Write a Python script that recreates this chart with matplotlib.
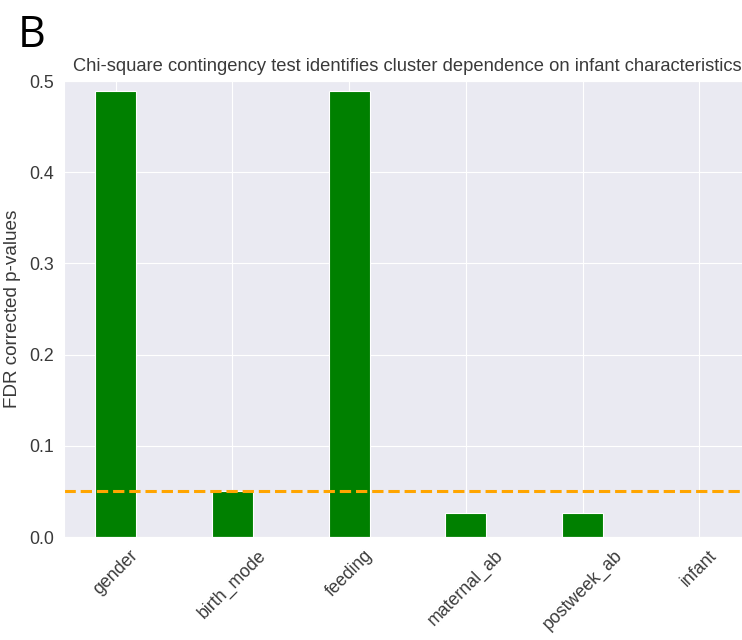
import matplotlib
import numpy as np
import seaborn as sns

matplotlib.use("Agg")
import matplotlib.pyplot as plt

sns.set_style("darkgrid")
plt.rcParams["font.family"] = ["Liberation Sans", "DejaVu Sans"]

# FDR-corrected chi-square p-values per infant characteristic
characteristics = ["gender", "birth_mode", "feeding", "maternal_ab", "postweek_ab", "infant"]
pvals = [0.489, 0.050, 0.489, 0.0265, 0.0265, 0.0]
alpha = 0.05

fig = plt.figure(figsize=(7.42, 6.4), dpi=100)
ax = fig.add_axes([64 / 742, 1 - 537 / 640, (751 - 64) / 742, (537 - 81) / 640])

x = np.arange(len(characteristics))
width = 0.35
ax.bar(x, pvals, width, color="green", edgecolor="white", linewidth=0.8)
ax.axhline(alpha, color="orange", ls="--", lw=2.2)

ax.set_ylim(0, 0.5)
ax.set_xticks(x)
ax.set_xticklabels(characteristics, rotation=45, fontsize=12.8, color="#3a3a3a")
ax.tick_params(axis="y", labelsize=12.8, labelcolor="#3a3a3a")
ax.set_ylabel("FDR corrected p-values", fontsize=13.6, color="#3a3a3a", labelpad=6)
ax.set_title("Chi-square contingency test identifies cluster dependence on infant characteristics",
             fontsize=13.2, color="#3a3a3a", pad=7)

fig.text(18 / 742, 1 - 47 / 640, "B", fontsize=31, family="Open Sans", color="black")

fig.savefig("out.png", dpi=100)
